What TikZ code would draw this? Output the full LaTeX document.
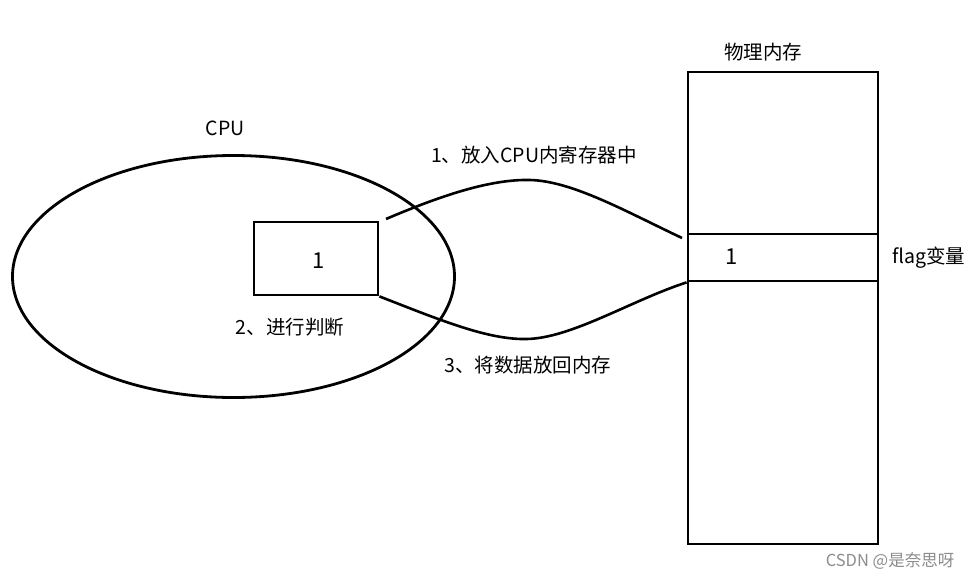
\documentclass[tikz,border=0pt]{standalone}
\usepackage{fontspec}
\setmainfont{Noto Sans CJK SC}
\usetikzlibrary{positioning}
\begin{document}
\begin{tikzpicture}[x=1pt,y=-1pt,
  thick line/.style={line width=2.8pt},
  lbl/.style={font=\fontsize{19.5}{22}\selectfont, inner sep=0pt},
  digit/.style={font=\fontsize{22}{24}\selectfont, inner sep=0pt},
  boxnode/.style={draw, line width=2.8pt, inner sep=0pt},
  conn/.style={line width=2.6pt}]
\useasboundingbox (0,0) rectangle (976,578);
% CPU ellipse
\draw[thick line] (233.5,276.5) ellipse [x radius=221, y radius=121];
\node[lbl] (cpulbl) at (225,128) {CPU};
% register box
\node[boxnode, minimum width=124pt, minimum height=73pt] (reg) at (316,258.5) {};
\node[digit] (regval) at (319,261) {1};
\node[lbl] (judge) at (290,327) {2、进行判断};
% memory
\node[boxnode, minimum width=190pt, minimum height=472pt] (mem) at (783,308) {};
\node[boxnode, minimum width=190pt, minimum height=47pt] (flag) at (783,257.5) {};
\node[lbl] (memlbl) at (763,52) {物理内存};
\node[digit] (flagval) at (732,257) {1};
\node[lbl] (flaglbl) at (929,258) {flag变量};
% connectors
\coordinate (s1) at (386,219);
\coordinate (m1) at (530,180);
\coordinate (e1) at (682,238);
\coordinate (m2) at (527,339);
\draw[conn] (s1) .. controls (440,196) and (490,179) .. (m1)
  .. controls (572,181) and (625,211) .. (e1);
\draw[conn] (reg.south east) .. controls (440,320) and (488,340) .. (m2)
  .. controls (572,338) and (632,300) .. (flag.south west);
\node[lbl] (step1) at (534,155) {1、放入CPU内寄存器中};
\node[lbl] (step3) at (528,365) {3、将数据放回内存};
% watermark
\node[lbl, font=\fontsize{16.5}{19}\selectfont, text=black!45] (wm) at (890,561) {CSDN @是奈思呀};
\end{tikzpicture}
\end{document}
